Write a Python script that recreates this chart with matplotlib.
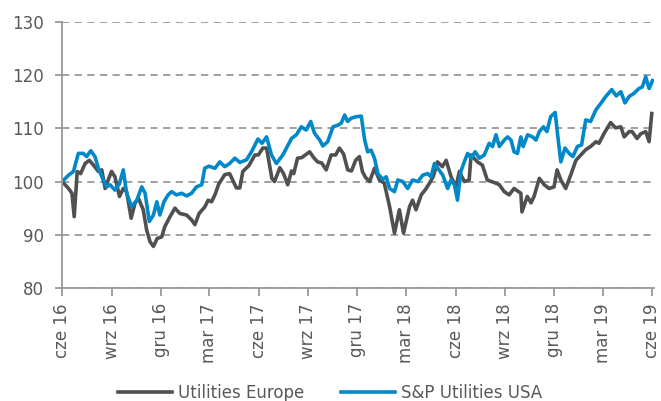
import numpy as np
import pandas as pd
import matplotlib
matplotlib.use("Agg")
import matplotlib.pyplot as plt

# weeks since 1 June 2016
europe_weeks = [0.0, 1.7, 2.6, 3.2, 4.0, 4.9, 6.1, 7.2, 8.3, 9.6, 10.5, 11.4, 12.2, 13.1, 14.0,
                15.2, 16.2, 17.1, 18.3, 19.3, 20.2, 21.5, 22.4, 23.3, 24.2, 25.2, 26.4, 27.2, 28.6,
                29.9, 31.2, 33.0, 34.3, 35.2, 36.3, 37.8, 38.7, 39.6, 40.5, 41.5, 43.1, 44.4, 46.2,
                47.1, 47.9, 49.5, 51.1, 52.0, 53.2, 54.2, 55.6, 56.3, 57.7, 58.7, 59.8, 60.8, 61.4,
                62.4, 63.5, 65.6, 66.7, 67.7, 68.8, 70.0, 71.3, 72.5, 73.5, 74.6, 75.7, 76.7, 77.8,
                78.8, 79.6, 80.4, 81.5, 82.8, 84.1, 85.4, 86.8, 88.1, 89.4, 90.5, 92.1, 92.9, 93.8,
                95.2, 96.3, 97.4, 98.4, 99.5, 100.8, 101.8, 103.1, 104.4, 105.3, 106.6, 107.9, 108.4,
                110.1, 111.4, 112.7, 113.8, 115.0, 115.9, 117.2, 118.5, 119.8, 121.6, 121.9, 123.3,
                124.3, 125.1, 126.5, 127.8, 129.1, 130.4, 131.2, 132.2, 133.5, 134.8, 136.2, 137.5,
                138.8, 140.1, 141.5, 142.3, 143.7, 145.4, 146.7, 148.1, 149.0, 150.3, 151.1, 152.4,
                153.4, 154.7, 155.6, 156.3]
europe_values = [100, 98.7, 97.8, 93.4, 101.9, 101.5, 103.4, 104, 103.1, 101.9, 102.2, 98.7, 100.3,
                 101.9, 100.9, 97.2, 98.7, 98.1, 93.1, 95.9, 96.9, 94.7, 90.9, 88.7, 87.8, 89.3, 89.6,
                 91.5, 93.4, 95, 94, 93.7, 92.8, 91.9, 94, 95.2, 96.5, 96.2, 97.5, 99.5, 101.3, 101.5,
                 98.8, 98.8, 101.9, 103, 105, 105, 106.3, 106.3, 100.6, 100, 102.6, 101.5, 99.4, 102,
                 101.5, 104.4, 104.5, 105.6, 104.5, 103.7, 103.5, 102.2, 105, 105, 106.3, 105.2, 102.2,
                 102, 104, 104.7, 101.9, 100.8, 100, 102.5, 100.3, 99.7, 95.3, 90.3, 94.7, 90.3, 95.3,
                 96.5, 94.7, 97.5, 98.5, 99.7, 101, 103.7, 102.8, 104, 100.9, 99, 101.9, 100, 100.3,
                 105, 103.7, 103.1, 100.3, 100, 99.7, 99.4, 98.1, 97.5, 98.7, 97.8, 94.3, 97.2, 96,
                 97.2, 100.6, 99.4, 98.7, 99, 102.2, 100.3, 98.7, 101.2, 104, 105, 106, 106.6, 107.5,
                 107.2, 109.1, 111.1, 110.1, 110.3, 108.4, 109.4, 109.4, 108.1, 109, 109.4, 107.5,
                 112.8]

usa_weeks = [0.0, 1.7, 3.0, 4.3, 5.6, 6.5, 7.6, 8.7, 9.6, 10.9, 11.8, 12.7, 14.0, 15.2, 16.2, 17.1,
             18.4, 19.8, 21.1, 22.0, 23.1, 24.2, 25.1, 25.9, 27.0, 28.1, 29.0, 30.3, 31.7, 33.0, 34.3,
             35.6, 37.0, 37.8, 38.9, 40.5, 41.8, 43.1, 44.4, 45.8, 47.1, 48.9, 50.2, 51.9, 53.0, 54.2,
             55.5, 56.8, 58.5, 60.8, 62.1, 63.4, 64.7, 65.9, 66.9, 68.3, 69.1, 70.4, 71.8, 73.1, 74.0,
             74.9, 75.7, 76.6, 77.9, 79.3, 80.2, 81.0, 81.9, 82.8, 83.7, 85.0, 85.9, 86.8, 88.1, 89.0,
             90.3, 91.6, 92.9, 94.3, 95.6, 96.9, 97.8, 98.7, 99.6, 100.9, 102.2, 103.1, 104.0, 104.8,
             105.7, 106.6, 107.5, 108.4, 109.5, 110.6, 111.9, 113.2, 114.1, 115.0, 115.9, 117.2,
             118.1, 119.0, 119.8, 120.7, 121.6, 122.2, 123.4, 124.7, 125.6, 126.5, 127.6, 128.5,
             129.5, 130.7, 131.3, 132.2, 133.3, 134.4, 135.4, 136.6, 137.7, 138.8, 140.1, 141.5,
             142.8, 144.1, 145.7, 146.9, 148.1, 149.2, 150.3, 151.6, 152.9, 153.8, 154.7, 155.6,
             156.5]
usa_values = [100, 101.2, 101.9, 105.3, 105.3, 104.7, 105.8, 104.7, 102.5, 100.3, 99, 99.4, 98.4,
              99.6, 102.2, 97.8, 95.3, 96.5, 99, 97.8, 92.5, 93.7, 96.2, 93.7, 96.2, 97.5, 98.1,
              97.5, 97.8, 97.3, 97.8, 99, 99.4, 102.5, 102.9, 102.5, 103.7, 102.8, 103.4, 104.4,
              103.6, 104.1, 105.6, 108, 107.2, 108.4, 105, 103.4, 105, 108.1, 108.8, 110.3, 109.7,
              111.3, 109.1, 107.8, 106.7, 107.5, 110.3, 110.6, 111, 112.5, 111.3, 111.9, 112.2,
              112.3, 107.8, 105.6, 105.9, 104.4, 101.5, 100.4, 100.9, 98.7, 98.1, 100.3, 100, 98.7,
              100.3, 100, 101.2, 101.5, 100.9, 103.4, 102.5, 101.2, 98.7, 100.3, 99.4, 96.5, 101.9,
              103.7, 105.3, 104.4, 105.6, 104.4, 105, 107.2, 106.6, 108.8, 106.6, 107.8, 108.4,
              107.8, 105.6, 105.3, 108.4, 106.6, 108.8, 108.4, 107.8, 109.4, 110.3, 109.4, 112.2,
              113, 109.1, 103.7, 106.3, 105.3, 104.7, 106.6, 106.9, 111.6, 111.3, 113.5, 114.7,
              116, 117.3, 116.1, 116.9, 114.8, 116, 116.6, 117.5, 117.8, 119.7, 117.5, 119]

tick_labels = ["cze 16", "wrz 16", "gru 16", "mar 17", "cze 17", "wrz 17", "gru 17",
               "mar 18", "cze 18", "wrz 18", "gru 18", "mar 19", "cze 19"]

start = pd.Timestamp("2016-06-01")
europe_dates = start + pd.to_timedelta(np.array(europe_weeks) * 7, unit="D")
usa_dates = start + pd.to_timedelta(np.array(usa_weeks) * 7, unit="D")
tick_dates = pd.date_range("2016-06-01", "2019-06-01", freq="3MS")

text_col = "#595959"
axis_col = "#999999"

fig = plt.figure(figsize=(6.61, 4.01), dpi=100)
ax = fig.add_axes([0.094, 0.282, 0.896, 0.663])

ax.plot(europe_dates, europe_values, color="#505050", lw=2.6, label="Utilities Europe",
        solid_joinstyle="round")
ax.plot(usa_dates, usa_values, color="#0088C9", lw=2.6, label="S&P Utilities USA",
        solid_joinstyle="round")

ax.set_ylim(80, 130)
ax.set_yticks([80, 90, 100, 110, 120, 130])
ax.set_xlim(tick_dates[0], tick_dates[-1] + pd.Timedelta(days=4))
ax.set_xticks(tick_dates)
ax.set_xticklabels(tick_labels, rotation=90)

ax.grid(axis="y", color=axis_col, linestyle=(0, (4, 3)), lw=1.3)
ax.set_axisbelow(True)
for s in ["top", "right"]:
    ax.spines[s].set_visible(False)
for s in ["left", "bottom"]:
    ax.spines[s].set_color(axis_col)
    ax.spines[s].set_linewidth(1.3)

ax.tick_params(axis="y", colors=axis_col, labelcolor=text_col, labelsize=12, length=5, width=1.3, pad=8)
ax.tick_params(axis="x", colors=axis_col, labelcolor=text_col, labelsize=12, length=6, width=1.3, pad=5)

# legend sits at the very bottom edge, nudged up just enough to stay whole
fig.legend(loc="center", bbox_to_anchor=(0.5, 1 - 393 / 401), ncol=2, frameon=False,
           fontsize=12, labelcolor=text_col, handlelength=3.2, handletextpad=0.4,
           columnspacing=2.2)

fig.savefig("out.png", dpi=100)
